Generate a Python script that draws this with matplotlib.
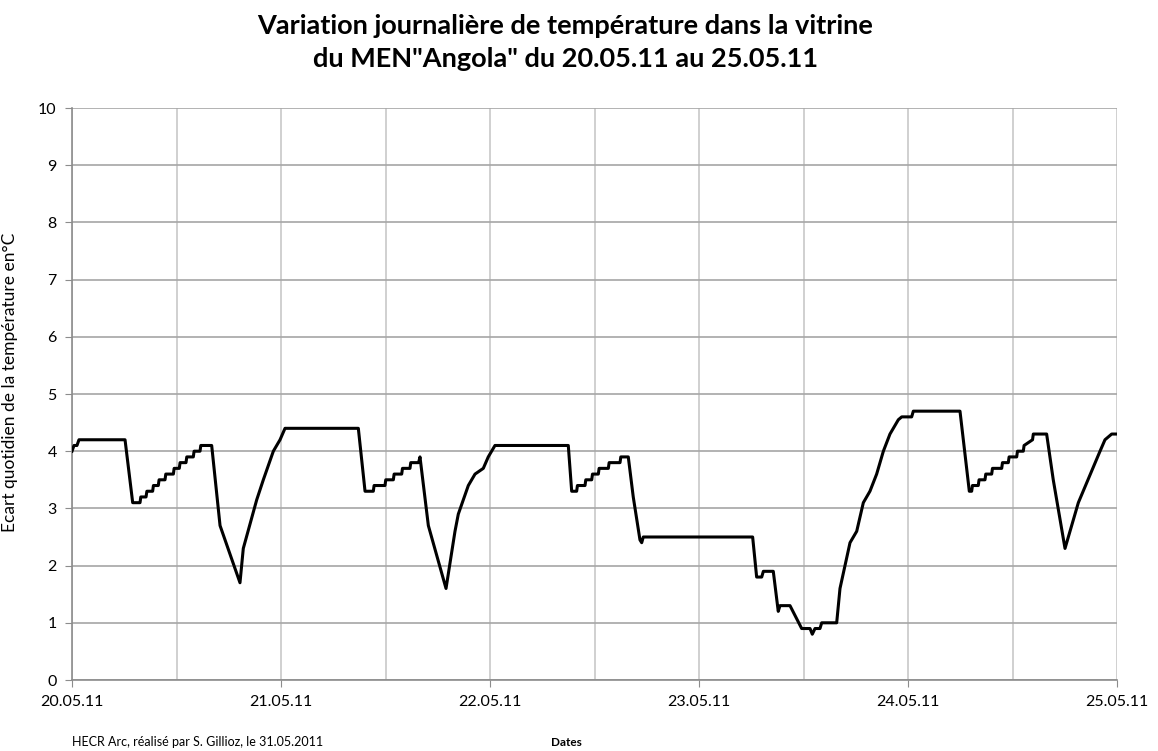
import matplotlib.pyplot as plt
from matplotlib.ticker import MultipleLocator

plt.rcParams['font.family'] = ['Lato', 'DejaVu Sans']

# hours since 20.05.11 00:00 and daily temperature spread (degC)
heures = [0.0, 0.23, 0.57, 0.80, 6.09, 6.97, 7.81, 7.9, 8.5, 8.6, 9.26, 9.35, 9.91, 10.0,
          10.68, 10.77, 11.64, 11.73, 12.32, 12.41, 13.09, 13.18, 13.93, 14.02, 14.7, 14.79,
          16.04, 17.0, 19.29, 19.67, 21.21, 21.97, 23.12, 23.89, 24.46,
          32.88, 33.65, 34.6, 34.69, 35.94, 36.03, 36.9, 36.99, 37.86, 37.95, 38.81, 38.9,
          39.8, 39.96, 40.92, 42.95, 43.98, 44.36, 45.51, 46.28, 47.23, 47.8, 48.57,
          56.99, 57.38, 57.95, 58.04, 58.91, 59.0, 59.68, 59.77, 60.44, 60.53, 61.59, 61.68,
          62.93, 63.02, 63.88, 64.45, 65.22, 65.42, 65.6,
          78.16, 78.62, 79.2, 79.39, 80.53, 81.1, 81.3, 82.45, 83.79, 84.75, 85.01, 85.32,
          85.89, 86.09, 87.81, 88.19, 88.77, 89.34, 90.11, 90.87, 91.63, 92.4, 93.17, 93.93,
          94.89, 95.28, 96.42, 96.61,
          101.97, 103.04, 103.31, 103.4, 104.07, 104.16, 104.84, 104.93, 105.61, 105.7,
          106.76, 106.85, 107.52, 107.61, 108.48, 108.57, 109.24, 109.33, 110.3, 110.39,
          111.92, 112.68, 114.03, 115.56, 118.05, 118.62, 119.39, 120.0]
ecart = [4.0, 4.1, 4.1, 4.2, 4.2, 3.1, 3.1, 3.2, 3.2, 3.3, 3.3, 3.4, 3.4, 3.5,
         3.5, 3.6, 3.6, 3.7, 3.7, 3.8, 3.8, 3.9, 3.9, 4.0, 4.0, 4.1,
         4.1, 2.7, 1.7, 2.3, 3.15, 3.5, 4.0, 4.2, 4.4,
         4.4, 3.3, 3.3, 3.4, 3.4, 3.5, 3.5, 3.6, 3.6, 3.7, 3.7, 3.8,
         3.8, 3.9, 2.7, 1.6, 2.6, 2.9, 3.4, 3.6, 3.7, 3.9, 4.1,
         4.1, 3.3, 3.3, 3.4, 3.4, 3.5, 3.5, 3.6, 3.6, 3.7, 3.7, 3.8,
         3.8, 3.9, 3.9, 3.2, 2.45, 2.4, 2.5,
         2.5, 1.8, 1.8, 1.9, 1.9, 1.2, 1.3, 1.3, 0.9, 0.9, 0.8, 0.9,
         0.9, 1.0, 1.0, 1.6, 2.0, 2.4, 2.6, 3.1, 3.3, 3.6, 4.0, 4.3,
         4.55, 4.6, 4.6, 4.7,
         4.7, 3.3, 3.3, 3.4, 3.4, 3.5, 3.5, 3.6, 3.6, 3.7,
         3.7, 3.8, 3.8, 3.9, 3.9, 4.0, 4.0, 4.1, 4.2, 4.3,
         4.3, 3.5, 2.3, 3.1, 4.0, 4.2, 4.3, 4.3]

dates = ['20.05.11', '21.05.11', '22.05.11', '23.05.11', '24.05.11', '25.05.11']

fig = plt.figure(figsize=(11.58, 7.51), dpi=100)
ax = fig.add_axes([72/1158, 1 - 680/751, (1117 - 72)/1158, (680 - 108)/751])

ax.plot(heures, ecart, color='black', lw=2.2, zorder=3)

ax.set_xlim(0, 120)
ax.set_ylim(0, 10)
ax.xaxis.set_minor_locator(MultipleLocator(12))
ax.set_xticks(range(0, 121, 24))
ax.set_xticklabels(dates)
ax.yaxis.set_major_locator(MultipleLocator(1))

ax.grid(axis='x', which='both', color='#c8c8c8', lw=1.2)
ax.grid(axis='y', which='major', color='#a6a6a6', lw=1.2)
ax.set_axisbelow(True)
for s in ['top', 'right']:
    ax.spines[s].set_visible(False)
for s in ['left', 'bottom']:
    ax.spines[s].set_color('#8c8c8c')
    ax.spines[s].set_linewidth(1.2)
ax.tick_params(axis='both', which='major', length=5, color='#8c8c8c', labelsize=11.5, pad=6)
ax.tick_params(axis='x', which='minor', length=0)

ax.set_ylabel('Ecart quotidien de la température en°C', fontsize=12.5, labelpad=8)
ax.yaxis.set_label_coords(-0.052, 0.52)

fig.text(0.488, 0.982, 'Variation journalière de température dans la vitrine\ndu MEN"Angola" du 20.05.11 au 25.05.11',
         ha='center', va='top', fontsize=19.5, fontweight='bold', linespacing=1.45)
fig.text(72/1158, 1 - 742/751, 'HECR Arc, réalisé par S. Gillioz, le 31.05.2011',
         ha='left', va='center', fontsize=9)
fig.text(566/1158, 1 - 742/751, 'Dates', ha='center', va='center', fontsize=8.5, fontweight='bold')

fig.savefig('out.png', dpi=100)
